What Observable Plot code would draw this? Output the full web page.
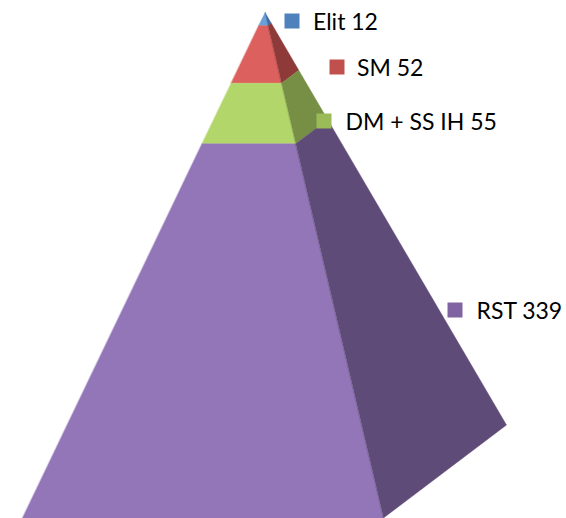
<!DOCTYPE html>
<html>
<head>
<meta charset="utf-8">
<script src="https://cdn.jsdelivr.net/npm/d3@7"></script>
<script src="https://cdn.jsdelivr.net/npm/@observablehq/plot@0.6"></script>
<style>
html,body{margin:0;padding:0;background:#fff}
svg{display:block}
</style>
</head>
<body>
<div id="chart"></div>
<script>
const categories = ["Elit", "SM", "DM + SS IH", "RST"];
const values = [12, 52, 55, 339];
const frontColors = ["#6b9fd9", "#dc605d", "#b2d66a", "#9376b8"];
const sideColors = ["#3f6b9f", "#8e3a38", "#768f44", "#5f4b78"];
const legendColors = ["#4f81bd", "#c0504d", "#9bbb59", "#8064a2"];
const legendX = [291.5, 336.5, 323.5, 454.5];
const legendY = [20.5, 66.5, 120.5, 309.5];
const labelX = [312.5, 356.5, 345, 476];

const apex = [264.5, 12];
const baseLeft = [22, 517.5];
const baseFront = [383, 517.5];
const baseBack = [506, 424.5];
const at = (corner, t) => [apex[0] + t * (corner[0] - apex[0]), apex[1] + t * (corner[1] - apex[1])];

const total = d3.sum(values);
const cum = d3.cumsum(values).map(v => v / total);
const faces = [];
values.forEach((v, i) => {
  const t0 = i ? cum[i - 1] : 0, t1 = cum[i];
  const add = (kind, a, b, color) => {
    [at(a, t0), at(b, t0), at(b, t1), at(a, t1)].forEach(p =>
      faces.push({id: kind + i, x: p[0], y: p[1], color}));
  };
  add("front", baseLeft, baseFront, frontColors[i]);
  add("side", baseFront, baseBack, sideColors[i]);
});

const legend = categories.map((c, i) => ({
  label: c + " " + values[i], x: legendX[i], y: legendY[i], tx: labelX[i], color: legendColors[i]
}));

const plot = Plot.plot({
  width: 566, height: 518,
  margin: 0,
  x: {domain: [0, 566], range: [0, 566], axis: null},
  y: {domain: [0, 518], range: [0, 518], axis: null},
  marks: [
    Plot.line(faces, {x: "x", y: "y", z: "id", fill: "color", stroke: "color", strokeWidth: 0.4, curve: "linear-closed"}),
    Plot.dot(legend, {x: "x", y: "y", symbol: "square", r: 8.46, fill: "color", stroke: "none"}),
    Plot.text(legend, {x: "tx", y: "y", text: "label", textAnchor: "start", fontSize: 23, fontFamily: "Lato", fill: "#000", dy: 1.5})
  ],
  style: {background: "#fff"}
});
document.getElementById("chart").appendChild(plot);
</script>
</body>
</html>
